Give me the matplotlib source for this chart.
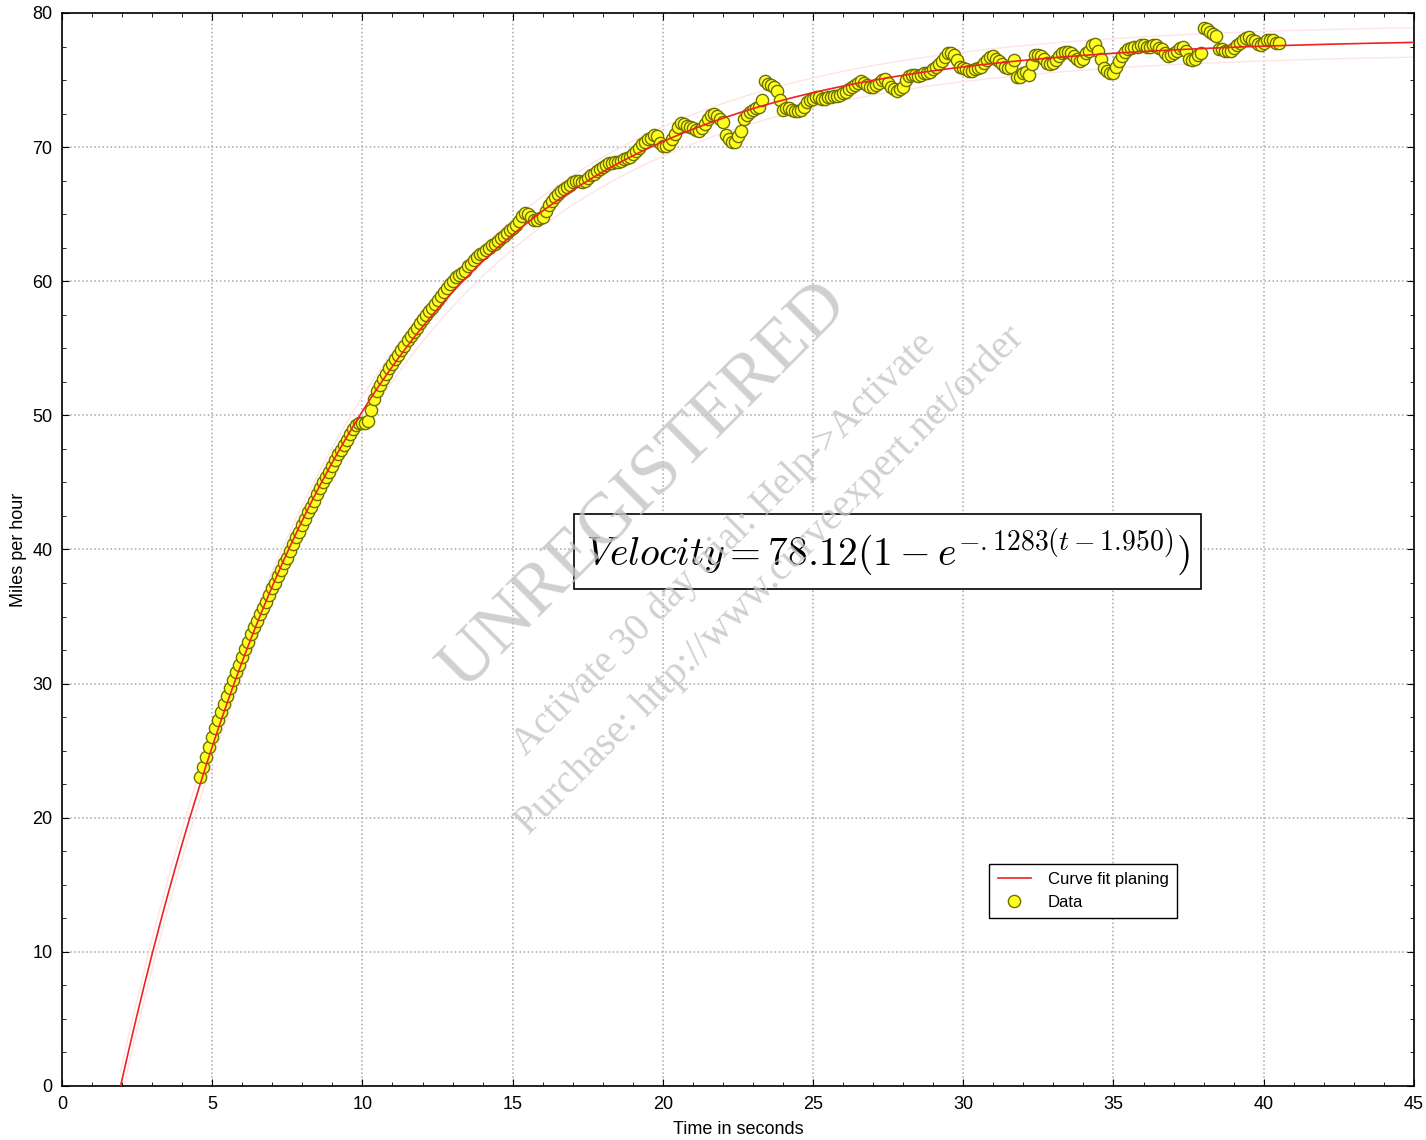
import numpy as np
import matplotlib
matplotlib.use("Agg")
import matplotlib.pyplot as plt
from matplotlib.ticker import MultipleLocator

plt.rcParams['font.family'] = ['Liberation Sans', 'DejaVu Sans']
plt.rcParams['mathtext.fontset'] = 'cm'

# fitted model: v = a * (1 - exp(-k * (t - t0)))
a, k, t0 = 78.12, 0.1283, 1.950
band = 1.1  # half width of the faint confidence band, mph

# measured planing run, one sample every 0.1 s
time_s = [
    4.6, 4.7, 4.8, 4.9,
    5.0, 5.1, 5.2, 5.3, 5.4, 5.5, 5.6, 5.7, 5.8, 5.9,
    6.0, 6.1, 6.2, 6.3, 6.4, 6.5, 6.6, 6.7, 6.8, 6.9,
    7.0, 7.1, 7.2, 7.3, 7.4, 7.5, 7.6, 7.7, 7.8, 7.9,
    8.0, 8.1, 8.2, 8.3, 8.4, 8.5, 8.6, 8.7, 8.8, 8.9,
    9.0, 9.1, 9.2, 9.3, 9.4, 9.5, 9.6, 9.7, 9.8, 9.9,
    10.0, 10.1, 10.2, 10.3, 10.4, 10.5, 10.6, 10.7, 10.8, 10.9,
    11.0, 11.1, 11.2, 11.3, 11.4, 11.5, 11.6, 11.7, 11.8, 11.9,
    12.0, 12.1, 12.2, 12.3, 12.4, 12.5, 12.6, 12.7, 12.8, 12.9,
    13.0, 13.1, 13.2, 13.3, 13.4, 13.5, 13.6, 13.7, 13.8, 13.9,
    14.0, 14.1, 14.2, 14.3, 14.4, 14.5, 14.6, 14.7, 14.8, 14.9,
    15.0, 15.1, 15.2, 15.3, 15.4, 15.5, 15.6, 15.7, 15.8, 15.9,
    16.0, 16.1, 16.2, 16.3, 16.4, 16.5, 16.6, 16.7, 16.8, 16.9,
    17.0, 17.1, 17.2, 17.3, 17.4, 17.5, 17.6, 17.7, 17.8, 17.9,
    18.0, 18.1, 18.2, 18.3, 18.4, 18.5, 18.6, 18.7, 18.8, 18.9,
    19.0, 19.1, 19.2, 19.3, 19.4, 19.5, 19.6, 19.7, 19.8, 19.9,
    20.0, 20.1, 20.2, 20.3, 20.4, 20.5, 20.6, 20.7, 20.8, 20.9,
    21.0, 21.1, 21.2, 21.3, 21.4, 21.5, 21.6, 21.7, 21.8, 21.9,
    22.0, 22.1, 22.2, 22.3, 22.4, 22.5, 22.6, 22.7, 22.8, 22.9,
    23.0, 23.1, 23.2, 23.3, 23.4, 23.5, 23.6, 23.7, 23.8, 23.9,
    24.0, 24.1, 24.2, 24.3, 24.4, 24.5, 24.6, 24.7, 24.8, 24.9,
    25.0, 25.1, 25.2, 25.3, 25.4, 25.5, 25.6, 25.7, 25.8, 25.9,
    26.0, 26.1, 26.2, 26.3, 26.4, 26.5, 26.6, 26.7, 26.8, 26.9,
    27.0, 27.1, 27.2, 27.3, 27.4, 27.5, 27.6, 27.7, 27.8, 27.9,
    28.0, 28.1, 28.2, 28.3, 28.4, 28.5, 28.6, 28.7, 28.8, 28.9,
    29.0, 29.1, 29.2, 29.3, 29.4, 29.5, 29.6, 29.7, 29.8, 29.9,
    30.0, 30.1, 30.2, 30.3, 30.4, 30.5, 30.6, 30.7, 30.8, 30.9,
    31.0, 31.1, 31.2, 31.3, 31.4, 31.5, 31.6, 31.7, 31.8, 31.9,
    32.0, 32.1, 32.2, 32.3, 32.4, 32.5, 32.6, 32.7, 32.8, 32.9,
    33.0, 33.1, 33.2, 33.3, 33.4, 33.5, 33.6, 33.7, 33.8, 33.9,
    34.0, 34.1, 34.2, 34.3, 34.4, 34.5, 34.6, 34.7, 34.8, 34.9,
    35.0, 35.1, 35.2, 35.3, 35.4, 35.5, 35.6, 35.7, 35.8, 35.9,
    36.0, 36.1, 36.2, 36.3, 36.4, 36.5, 36.6, 36.7, 36.8, 36.9,
    37.0, 37.1, 37.2, 37.3, 37.4, 37.5, 37.6, 37.7, 37.8, 37.9,
    38.0, 38.1, 38.2, 38.3, 38.4, 38.5, 38.6, 38.7, 38.8, 38.9,
    39.0, 39.1, 39.2, 39.3, 39.4, 39.5, 39.6, 39.7, 39.8, 39.9,
    40.0, 40.1, 40.2, 40.3, 40.4, 40.5,
]
speed_mph = [
    23.0, 23.8, 24.5, 25.3,
    26.0, 26.7, 27.3, 27.9, 28.5, 29.1, 29.7, 30.3, 30.9, 31.4,
    32.0, 32.6, 33.1, 33.7, 34.2, 34.7, 35.2, 35.6, 36.1, 36.6,
    37.1, 37.5, 38.0, 38.5, 39.0, 39.4, 39.9, 40.4, 40.9, 41.3,
    41.8, 42.3, 42.8, 43.2, 43.6, 44.1, 44.6, 45.0, 45.4, 45.8,
    46.2, 46.7, 47.1, 47.4, 47.8, 48.2, 48.6, 49.0, 49.3, 49.4,
    49.4, 49.4, 49.6, 50.4, 51.2, 51.8, 52.3, 52.7, 53.1, 53.5,
    53.8, 54.2, 54.5, 54.9, 55.2, 55.6, 55.9, 56.2, 56.5, 56.9,
    57.2, 57.5, 57.8, 58.0, 58.3, 58.6, 58.9, 59.2, 59.5, 59.8,
    60.0, 60.3, 60.5, 60.6, 60.8, 61.1, 61.3, 61.6, 61.8, 62.0,
    62.1, 62.3, 62.5, 62.7, 62.8, 63.0, 63.2, 63.4, 63.6, 63.8,
    64.0, 64.2, 64.5, 64.9, 65.1, 65.0, 64.8, 64.6, 64.6, 64.7,
    64.8, 65.2, 65.7, 66.0, 66.3, 66.5, 66.7, 66.9, 67.0, 67.2,
    67.4, 67.5, 67.5, 67.4, 67.5, 67.7, 67.9, 68.0, 68.2, 68.4,
    68.5, 68.7, 68.8, 68.8, 68.9, 68.9, 69.0, 69.1, 69.2, 69.3,
    69.5, 69.7, 69.9, 70.2, 70.4, 70.6, 70.7, 70.9, 70.8, 70.3,
    70.1, 70.1, 70.2, 70.6, 71.0, 71.5, 71.8, 71.7, 71.6, 71.5,
    71.4, 71.3, 71.2, 71.4, 71.7, 72.1, 72.4, 72.5, 72.3, 72.1,
    71.9, 70.9, 70.6, 70.4, 70.4, 70.8, 71.2, 72.1, 72.4, 72.6,
    72.8, 72.9, 73.0, 73.5, 74.9, 74.7, 74.6, 74.5, 74.2, 73.5,
    72.8, 72.9, 72.9, 72.8, 72.7, 72.7, 72.8, 73.0, 73.4, 73.5,
    73.6, 73.7, 73.7, 73.6, 73.6, 73.7, 73.7, 73.8, 73.8, 73.9,
    74.0, 74.1, 74.3, 74.5, 74.6, 74.8, 74.9, 74.8, 74.6, 74.5,
    74.5, 74.6, 74.8, 75.0, 75.1, 74.8, 74.5, 74.3, 74.2, 74.3,
    74.5, 75.0, 75.3, 75.4, 75.4, 75.3, 75.4, 75.5, 75.5, 75.6,
    75.8, 76.0, 76.2, 76.4, 76.7, 77.0, 77.0, 76.9, 76.5, 76.0,
    75.9, 75.8, 75.7, 75.7, 75.8, 75.9, 76.0, 76.3, 76.5, 76.7,
    76.8, 76.6, 76.4, 76.2, 76.0, 75.9, 76.0, 76.5, 75.2, 75.2,
    75.5, 75.6, 75.4, 76.2, 76.9, 76.9, 76.8, 76.6, 76.3, 76.2,
    76.3, 76.5, 76.8, 77.0, 77.1, 77.1, 77.0, 76.8, 76.6, 76.4,
    76.6, 77.0, 77.2, 77.6, 77.7, 77.2, 76.6, 75.9, 75.7, 75.5,
    75.5, 76.0, 76.4, 76.8, 77.1, 77.3, 77.4, 77.5, 77.5, 77.6,
    77.6, 77.5, 77.5, 77.6, 77.6, 77.4, 77.3, 77.0, 76.8, 76.9,
    77.0, 77.2, 77.4, 77.5, 77.2, 76.6, 76.5, 76.6, 76.9, 77.0,
    78.9, 78.8, 78.6, 78.4, 78.3, 77.3, 77.3, 77.2, 77.2, 77.2,
    77.4, 77.6, 77.8, 78.0, 78.1, 78.2, 78.0, 77.9, 77.7, 77.6,
    77.8, 78.0, 78.0, 78.0, 77.8, 77.75,
]

tt = np.linspace(t0, 45, 500)
fit = a * (1 - np.exp(-k * (tt - t0)))

fig = plt.figure(figsize=(14.26, 11.40), dpi=100)
ax = fig.add_axes([0.0435, 0.0474, 0.948, 0.9412])

ax.plot(tt, fit + band, color='#ffe4e4', lw=1.0, zorder=2)
ax.plot(tt, fit - band, color='#ffe4e4', lw=1.0, zorder=2)
ax.plot(time_s, speed_mph, 'o', ms=8.8, mfc='#ffff22', mec='#707000',
        mew=1.0, label='Data', zorder=3)
ax.plot(tt, fit, color='#ee2222', lw=1.2, label='Curve fit planing', zorder=4)

ax.set_xlim(0, 45)
ax.set_ylim(0, 80)
ax.xaxis.set_major_locator(MultipleLocator(5))
ax.xaxis.set_minor_locator(MultipleLocator(1))
ax.yaxis.set_major_locator(MultipleLocator(10))
ax.yaxis.set_minor_locator(MultipleLocator(2.5))
ax.tick_params(which='both', direction='in', top=True, right=True,
               labelsize=13, pad=7)
ax.tick_params(which='major', length=5)
ax.tick_params(which='minor', length=3)
ax.grid(True, which='major', color='#a8a8a8', linestyle=':', lw=1.1)
for s in ax.spines.values():
    s.set_linewidth(1.2)

ax.set_xlabel('Time in seconds', fontsize=13, labelpad=6)
ax.set_ylabel('Miles per hour', fontsize=13, labelpad=4)

handles, labels = ax.get_legend_handles_labels()
leg = ax.legend(handles[::-1], labels[::-1], loc='upper left',
                bbox_to_anchor=(0.686, 0.207), borderaxespad=0,
                numpoints=1, fontsize=12, fancybox=False, framealpha=1,
                edgecolor='black', handlelength=2.0, handletextpad=1.0,
                borderpad=0.5, labelspacing=0.45)
leg.get_frame().set_linewidth(1.0)

ax.text(0.6106, 0.498, r'$Velocity = 78.12(1 - e^{-.1283(t - 1.950)})$',
        transform=ax.transAxes, ha='center', va='center', fontsize=28.5,
        bbox=dict(boxstyle='square,pad=0.3', fc='white', ec='black', lw=1.2),
        zorder=5)

# trial watermark
wm = dict(rotation=45, ha='center', va='center', color='#c4c4c4',
          family=['Liberation Serif', 'DejaVu Serif'], alpha=0.8, zorder=10)
fig.text(0.452, 0.573, 'UNREGISTERED', fontsize=52, **wm)
fig.text(0.508, 0.522, 'Activate 30 day trial: Help->Activate', fontsize=28, **wm)
fig.text(0.540, 0.491, 'Purchase: http://www.curveexpert.net/order', fontsize=29, **wm)

fig.savefig('out.png', dpi=100)
